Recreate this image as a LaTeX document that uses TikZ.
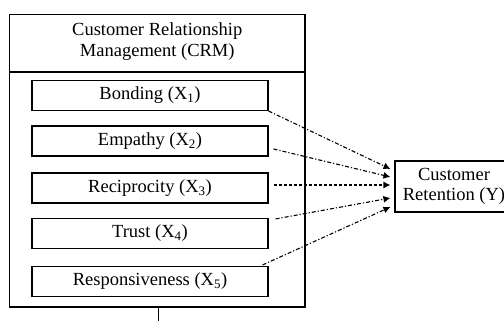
\documentclass[tikz,border=0pt]{standalone}
\usepackage{fontspec}
\setmainfont{Liberation Serif}
\usetikzlibrary{arrows.meta,calc}
\begin{document}
\begin{tikzpicture}[x=1pt,y=-1pt,
  txt/.style={font=\fontsize{18.5}{20.5}\selectfont, align=center, inner sep=0pt},
  itembox/.style={draw, line width=1.1pt, minimum width=236pt, minimum height=30pt, inner sep=0pt, font=\fontsize{18.5}{20}\selectfont},
  link/.style={line width=1.1pt, dash pattern=on 4pt off 2pt on 1.2pt off 2pt, -{Latex[length=7pt,width=7pt]}},
  dlink/.style={line width=1.1pt, dash pattern=on 3pt off 2pt, -{Latex[length=7pt,width=7pt]}}
]
\useasboundingbox (0,0) rectangle (504,321);
\clip (0,0) rectangle (504,321);
% outer box
\node[draw, line width=1.3pt, minimum width=295.5pt, minimum height=292.5pt, inner sep=0pt] (outer) at (157.25,160.75) {};
\draw[line width=1.3pt] (outer.west |- 0,72) coordinate (sepL) -- (outer.east |- 0,72) coordinate (sepR);
\node[txt] (head) at (157.25,41.5) {Customer Relationship\\Management (CRM)};
% items
\node[itembox] (x1) at (150,95.5) {Bonding (X\textsubscript{1})};
\node[itembox] (x2) at (150,141) {Empathy (X\textsubscript{2})};
\node[itembox] (x3) at (150,188) {Reciprocity (X\textsubscript{3})};
\node[itembox] (x4) at (150,233.5) {Trust (X\textsubscript{4})};
\node[itembox] (x5) at (150,281.5) {Responsiveness (X\textsubscript{5})};
% target
\node[draw, line width=1.1pt, minimum width=118pt, minimum height=51pt, inner sep=0pt, txt] (y) at (454,186.5) {Customer\\Retention (Y)};
% bottom stub
\coordinate (stub) at (158,325);
\draw[line width=1pt] (outer.south -| stub) -- (stub);
% connector ends
\coordinate (s1) at (x1.south east);
\coordinate (s2) at ($(x2.east)+(5,8)$);
\coordinate (s3) at ($(x3.east)+(5,-3)$);
\coordinate (s4) at ($(x4.north east)+(7,1)$);
\coordinate (s5) at ($(x5.north east)+(-6,-1)$);
\coordinate (t1) at ($(y.west)+(-4,-17.5)$);
\coordinate (t2) at ($(y.west)+(-4,-9.5)$);
\coordinate (t3) at ($(y.west)+(-4,-1.5)$);
\coordinate (t4) at ($(y.west)+(-4,11.5)$);
\coordinate (t5) at ($(y.west)+(-4,20.5)$);
\draw[link] (s1) -- (t1);
\draw[link] (s2) -- (t2);
\draw[dlink] (s3) -- (t3);
\draw[link] (s4) -- (t4);
\draw[link] (s5) -- (t5);
\end{tikzpicture}
\end{document}
